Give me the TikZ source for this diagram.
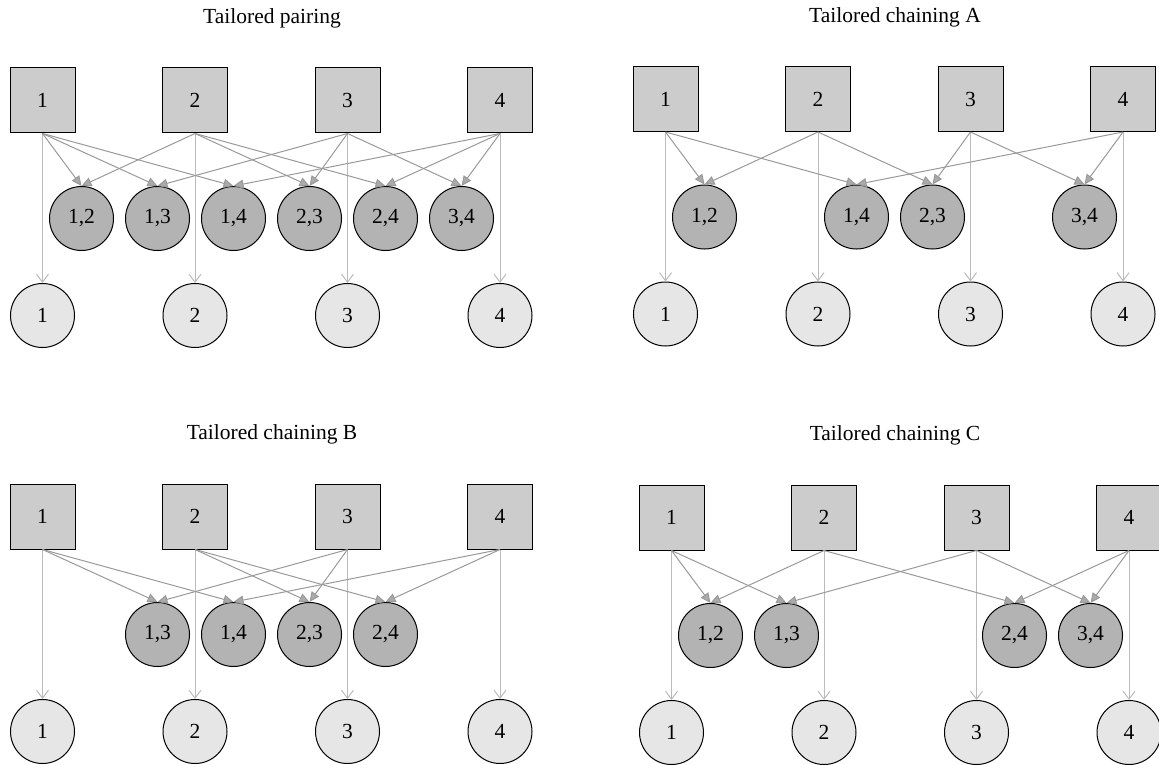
\documentclass[tikz,border=0pt]{standalone}
\usepackage{fontspec}
\setmainfont{Liberation Serif}
\usetikzlibrary{arrows.meta}
\definecolor{sqfill}{HTML}{CCCCCC}
\definecolor{prfill}{HTML}{B3B3B3}
\definecolor{obfill}{HTML}{E6E6E6}
\definecolor{vline}{HTML}{BBBBBB}
\definecolor{dline}{HTML}{999999}
\definecolor{headfill}{HTML}{AAAAAA}
\tikzset{
  lbl/.style={font=\fontsize{21.5}{25}\selectfont},
  sq/.style={lbl, rectangle, draw=black, line width=1pt, fill=sqfill, minimum size=65pt, inner sep=0pt},
  pr/.style={lbl, circle, draw=black, line width=1pt, fill=prfill, minimum size=64pt, inner sep=0pt},
  ob/.style={lbl, circle, draw=black, line width=1pt, fill=obfill, minimum size=64pt, inner sep=0pt},
  vedge/.style={draw=vline, line width=1pt, -{Straight Barb[length=8pt,width=12pt]}},
  dedge/.style={draw=dline, line width=1pt, -{Triangle[length=10pt,width=9pt,fill=headfill]}},
  ptitle/.style={lbl}
}
\newcommand\drawpanel[6]{%
  \foreach \i in {1,...,4} {
    \node[sq] (#1s\i) at ({#2+152.5*(\i-1)}, #3) {\i};
    \node[ob] (#1o\i) at ({#2+152.5*(\i-1)}, #3+215) {\i};
    \draw[vedge] (#1s\i.south) -- (#1o\i.north);
  }
  \foreach \i/\j/\k in {#6} {
    \node[pr] (#1p\i\j) at ({#2+39+76*\k}, #3+118) {\i,\j};
    \draw[dedge] (#1s\i.south) -- (#1p\i\j.north);
    \draw[dedge] (#1s\j.south) -- (#1p\i\j.north);
  }
  \node[ptitle] (#1title) at (#5, #3-82) {#4};
}
\begin{document}
\begin{tikzpicture}[x=1pt,y=-1pt]
\useasboundingbox (0,0) rectangle (1159,765);
\drawpanel{a}{42.5}{100.5}{Tailored pairing}{272}{1/2/0,1/3/1,1/4/2,2/3/3,2/4/4,3/4/5}
\drawpanel{b}{665.5}{99}{Tailored chaining A}{895}{1/2/0,1/4/2,2/3/3,3/4/5}
\drawpanel{c}{42.5}{516.5}{Tailored chaining B}{272}{1/3/1,1/4/2,2/3/3,2/4/4}
\drawpanel{d}{671.5}{517.5}{Tailored chaining C}{895}{1/2/0,1/3/1,2/4/4,3/4/5}
\end{tikzpicture}
\end{document}
